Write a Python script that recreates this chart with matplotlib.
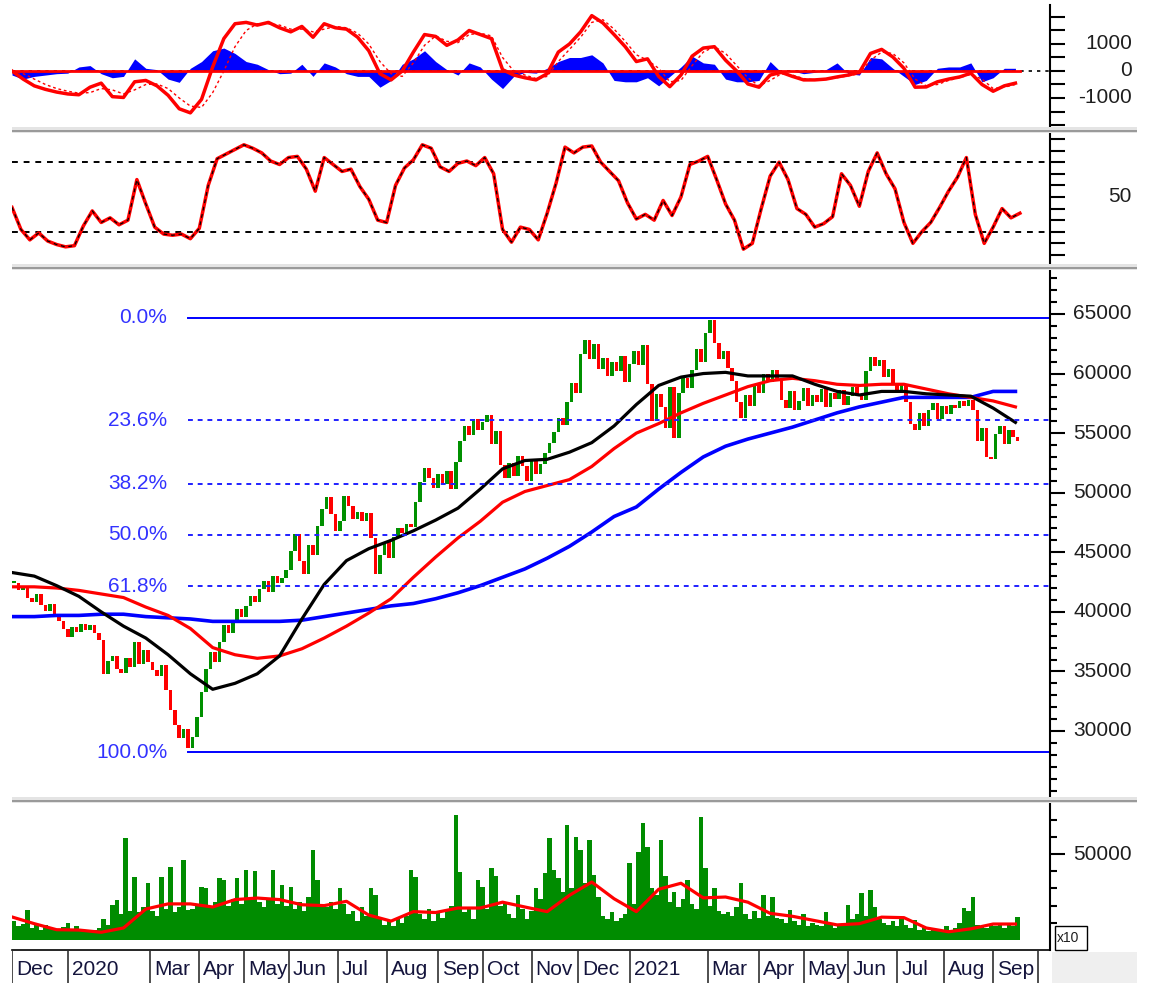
import numpy as np
import matplotlib.pyplot as plt
from matplotlib.patches import Rectangle

plt.rcParams['font.family'] = ['Liberation Sans', 'DejaVu Sans']

# ---- data ----
month_labels = ['Dec', '2020', 'Mar', 'Apr', 'May', 'Jun', 'Jul', 'Aug', 'Sep', 'Oct',
                'Nov', 'Dec', '2021', 'Mar', 'Apr', 'May', 'Jun', 'Jul', 'Aug', 'Sep']
month_days = [25, 37, 22, 20, 20, 22, 22, 23, 20, 22, 21, 23, 35, 23, 20, 20, 22, 21, 22, 20]

# closes, one candle per 2 sessions
closes = [42400, 41800, 42100, 41200, 40800, 41500, 40600, 40100, 40700, 39800,
          39200, 38600, 37900, 38700, 38300, 39000, 38500, 38900, 38200, 37600,
          34800, 35900, 36300, 35200, 34900, 36100, 35400, 37500, 35600, 36800,
          35800, 35100, 34600, 35500, 33400, 31800, 30500, 29400, 30200, 28600,
          29500, 31200, 33300, 35200, 36600, 35800, 37500, 38900, 38200, 39300,
          40200, 39600, 40500, 41300, 40800, 41900, 42600, 41700, 43000, 42400,
          42800, 43500, 45100, 46500, 44300, 43200, 45600, 44800, 47200, 48600,
          49600, 48200, 46800, 47600, 49700, 48900, 47800, 48400, 47600, 48300,
          46200, 43200, 44800, 45900, 44500, 46300, 47000, 46600, 47400, 47100,
          49200, 50900, 52100, 51200, 50400, 51600, 50700, 51800, 50300, 52600,
          54300, 55600, 54800, 56200, 55300, 55900, 56500, 54100, 55200, 52300,
          51200, 52500, 51400, 53100, 52200, 51000, 52800, 51600, 52400, 53300,
          54200, 55100, 56300, 55700, 57600, 59200, 58400, 61600, 62800, 61200,
          62500, 60400, 61300, 59800, 61000, 60200, 61500, 59300, 60800, 61900,
          60700, 62400, 59100, 56000, 58300, 57200, 55400, 58900, 54600, 58400,
          59600, 58800, 60300, 62100, 61000, 63400, 64500, 62600, 61200, 61900,
          60500, 59400, 57600, 56300, 58200, 57300, 59100, 58400, 60000, 59300,
          60300, 59500, 57800, 57100, 58500, 56900, 57700, 58800, 57300, 58200,
          57600, 58700, 57200, 58400, 57900, 58600, 57400, 58100, 58900, 58300,
          57800, 60200, 61400, 60600, 61100, 59700, 60400, 59200, 58600, 59100,
          57600, 55800, 55300, 56700, 55600, 56900, 57500, 56200, 57300, 56600,
          57400, 57100, 57700, 57300, 57800, 56900, 54300, 55400, 53000, 52800,
          54900, 55600, 54100, 55300, 54700, 54300]

volumes = [11000, 8000, 9500, 17400, 7000, 8500, 6000, 9000, 7500, 6500,
           5000, 7500, 10000, 5500, 8000, 6500, 4500, 5000, 6000, 7000,
           12000, 9000, 20300, 23300, 15000, 59300, 17000, 36600, 16000, 19000,
           33000, 17000, 14000, 36600, 18000, 42400, 16000, 19000, 46500, 17500,
           18000, 21000, 31000, 30000, 19000, 22000, 36000, 35000, 20000, 24000,
           36000, 21000, 40700, 23000, 40000, 22000, 19000, 24000, 40700, 21000,
           32000, 20000, 31000, 18000, 22000, 17000, 25000, 52300, 35000, 21000,
           19000, 22000, 18000, 30000, 21000, 15000, 17000, 11000, 19000, 14000,
           30000, 26000, 12000, 9000, 11000, 8000, 13000, 10000, 14000, 40700,
           36600, 15000, 12000, 18000, 11000, 16000, 13000, 17000, 20000, 72700,
           39500, 16000, 19000, 12000, 35000, 31000, 18000, 41900, 37000, 20000,
           22000, 15000, 13000, 26000, 18000, 12000, 17000, 30000, 24000, 39000,
           59300, 40700, 36000, 28000, 66900, 30000, 60000, 52300, 33000, 58100,
           38000, 25000, 14000, 12000, 16000, 11000, 13000, 15000, 44800, 21000,
           51200, 68000, 54100, 30000, 26000, 58100, 37000, 22000, 28000, 19000,
           24000, 35000, 21000, 18000, 71500, 42000, 20000, 30000, 17000, 15000,
           16000, 14000, 19000, 33100, 15000, 12000, 17000, 13000, 26200, 14000,
           25000, 13000, 12000, 10000, 17400, 11000, 9000, 15000, 8000, 10000,
           9000, 8000, 16300, 10000, 7000, 9000, 8000, 20300, 12000, 15000,
           27300, 14000, 29100, 19000, 12000, 10000, 9000, 11000, 8000, 12000,
           9000, 7000, 11600, 6000, 8000, 5000, 7000, 6000, 5000, 8000,
           6000, 7000, 10000, 18600, 17000, 25000, 9000, 8000, 7000, 9000,
           8000, 10000, 7000, 9000, 8000, 13400]

# moving averages, one point per 10 sessions
ma_black = [43300, 43000, 42200, 41300, 40000, 38800, 37800, 36400, 34800, 33500,
            34000, 34800, 36300, 39400, 42300, 44300, 45300, 46000, 46800, 47700,
            48700, 50300, 52000, 52700, 52800, 53400, 54200, 55600, 57400, 59000,
            59700, 60000, 60100, 59800, 59800, 59800, 59100, 58500, 58200, 58500,
            58500, 58300, 58200, 58100, 57100, 55900]
ma_red = [42100, 42100, 42000, 41800, 41500, 41200, 40400, 39700, 38600, 37000,
          36400, 36100, 36300, 36900, 37800, 38800, 39900, 41100, 42900, 44600,
          46200, 47600, 49200, 50100, 50600, 51100, 52200, 53700, 55000, 55800,
          56700, 57500, 58200, 58900, 59400, 59600, 59400, 59100, 59000, 59100,
          59100, 58700, 58300, 58000, 57700, 57200]
ma_blue = [39600, 39600, 39700, 39700, 39800, 39800, 39600, 39500, 39400, 39200,
           39200, 39200, 39200, 39300, 39600, 39900, 40200, 40500, 40700, 41100,
           41600, 42200, 42900, 43600, 44500, 45500, 46700, 48000, 48800, 50300,
           51700, 53000, 53900, 54500, 55000, 55500, 56100, 56700, 57200, 57600,
           58000, 58000, 58000, 58000, 58500, 58500]
vol_ma = [13400, 9500, 6000, 5800, 4500, 7000, 18000, 21000, 21000, 19200,
          23500, 24400, 23500, 20500, 20000, 22500, 14500, 11000, 16500, 16000,
          18600, 18600, 22000, 19200, 16500, 26000, 33700, 24000, 16500, 29500,
          33000, 24500, 25000, 22000, 15500, 13800, 11300, 8800, 9500, 13300,
          13000, 7000, 4800, 6500, 9300, 9300]

# MACD, one point per 5 sessions
macd = [0, -300, -550, -680, -780, -850, -880, -600, -450, -950,
        -980, -400, -350, -550, -900, -1400, -1550, -1050, 150, 1200,
        1750, 1800, 1700, 1800, 1600, 1450, 1650, 1250, 1750, 1600,
        1550, 1250, 750, -100, -330, 0, 700, 1350, 1280, 950,
        1150, 1500, 1350, 1200, 50, -150, -250, -330, -100, 700,
        1000, 1450, 2050, 1780, 1350, 900, 350, 450, -200, -580,
        -150, 550, 850, 900, 400, 0, -480, -600, -150, -50,
        -200, -330, -330, -300, -220, -150, -50, 650, 800, 520,
        100, -600, -590, -400, -300, -220, -80, -500, -750, -550, -450]
signal = [0, -100, -300, -500, -650, -750, -820, -800, -650, -700,
          -850, -700, -500, -480, -650, -1000, -1300, -1350, -800, 0,
          900, 1500, 1750, 1750, 1700, 1550, 1550, 1450, 1550, 1650,
          1600, 1400, 1000, 350, -100, -200, 300, 950, 1300, 1100,
          1050, 1350, 1400, 1300, 500, 0, -150, -280, -200, 350,
          800, 1250, 1800, 1900, 1550, 1100, 600, 400, 100, -400,
          -350, 200, 700, 900, 650, 200, -250, -550, -350, -100,
          -150, -280, -330, -310, -250, -180, -100, 400, 700, 650,
          300, -300, -550, -500, -350, -250, -120, -300, -650, -600, -500]
hist = [-150, -300, -200, -150, -100, -80, 150, 200, -100, -250,
        -200, 450, 100, 50, -300, -420, 100, 350, 750, 850,
        650, 350, 250, 50, -100, -80, 250, -200, 300, 150,
        -100, -200, -200, -600, -350, 250, 450, 750, 350, 50,
        -150, 300, 150, -300, -650, -200, -50, -80, 100, 350,
        500, 500, 600, 300, -350, -400, -400, -250, -550, -200,
        150, 550, 300, 250, -300, -400, -400, -350, 350, -50,
        0, -100, -50, 50, 300, -100, -150, 500, 450, 100,
        -200, -500, -350, 100, 150, 150, 300, -400, -250, 100, 100]

# stochastic, one point per 4 sessions
stoch = [41, 22, 13, 19, 12, 9, 7, 8, 25, 38,
         28, 32, 26, 30, 65, 44, 24, 18, 17, 18,
         14, 23, 60, 83, 87, 91, 95, 92, 88, 81,
         78, 84, 85, 74, 55, 84, 78, 72, 74, 59,
         48, 30, 28, 60, 75, 82, 95, 92, 76, 72,
         79, 81, 77, 84, 70, 22, 11, 24, 22, 13,
         36, 62, 93, 88, 93, 94, 80, 72, 64, 45,
         31, 35, 30, 47, 34, 50, 78, 81, 85, 65,
         44, 30, 5, 10, 40, 68, 80, 65, 40, 35,
         24, 27, 33, 70, 60, 42, 72, 88, 70, 57,
         28, 10, 20, 28, 41, 55, 67, 84, 35, 10,
         24, 40, 32, 36]

fib_high = 64700
fib_low = 28200
fib_pct = [0.0, 23.6, 38.2, 50.0, 61.8, 100.0]

# ---- layout ----
W, H = 1151, 983
XMAX = 465.5
fig = plt.figure(figsize=(W / 100, H / 100), dpi=100)


def box(x0, y0, x1, y1):
    return [x0 / W, 1 - y1 / H, (x1 - x0) / W, (y1 - y0) / H]


ax1 = fig.add_axes(box(12, 5, 1050, 128))
ax2 = fig.add_axes(box(12, 134, 1050, 264))
ax3 = fig.add_axes(box(12, 270, 1050, 797))
ax4 = fig.add_axes(box(12, 803, 1050, 950))
axm = fig.add_axes(box(12, 951, 1050, 983))

LBL_X = (1132 - 12) / (1050 - 12)
TXT = '#1e1e1e'


def style(ax, ylim, ticks, long_ticks, labels):
    ax.set_xlim(0, XMAX)
    ax.set_ylim(*ylim)
    for s in ['left', 'top', 'bottom']:
        ax.spines[s].set_visible(False)
    ax.spines['right'].set_linewidth(1.5)
    ax.set_xticks([])
    ax.yaxis.tick_right()
    ax.set_yticks([t for t in ticks if t not in long_ticks], minor=True)
    ax.set_yticks(long_ticks)
    ax.set_yticklabels([])
    ax.tick_params(axis='y', which='major', length=11, width=1.5, direction='out')
    ax.tick_params(axis='y', which='minor', length=5, width=1.5, direction='out')
    tr = ax.get_yaxis_transform()
    for v, s in labels:
        ax.text(LBL_X, v, s, transform=tr, ha='right', va='center',
                fontsize=15, color=TXT, clip_on=False)


# ---- MACD panel ----
xm = np.arange(len(macd)) * 5
ax1.axhline(0, color='black', lw=1.2, ls=(0, (2, 3)))
ax1.fill_between(xm, hist, 0, color='#0000ff', lw=0)
ax1.plot([0, 2 * len(closes)], [0, 0], color='#ff0000', lw=2)
ax1.plot(xm, signal, color='#ff0000', lw=1, ls=(0, (2, 2)))
ax1.plot(xm, macd, color='#ff0000', lw=2.5)
t1 = list(range(-2000, 2001, 500))
style(ax1, (-2111, 2444), t1, t1, [(1000, '1000'), (0, '0'), (-1000, '-1000')])

# ---- stochastic panel ----
xs = np.arange(len(stoch)) * 4
for lv in (80, 20):
    ax2.axhline(lv, color='black', lw=1.4, ls=(0, (3, 3)))
ax2.plot(xs, stoch, color='#ff0000', lw=2.5)
ax2.plot(xs, stoch, color='black', lw=0.9, ls=(0, (3, 3)))
t2 = list(range(0, 101, 10))
style(ax2, (-7.8, 104.3), t2, t2, [(50, '50')])

# ---- price panel ----
closes_a = np.array(closes, dtype=float)
opens_a = np.r_[closes_a[0], closes_a[:-1]]
xc = np.arange(len(closes)) * 2 + 1
body_lo = np.minimum(opens_a, closes_a)
body_h = np.maximum(np.abs(closes_a - opens_a), 150)
ccol = np.where(closes_a >= opens_a, '#009000', '#ff0000')
ax3.bar(xc, body_h, bottom=body_lo, width=1.6, color=ccol, lw=0)

xa = np.arange(len(ma_black)) * 10
ax3.plot(xa, ma_blue, color='#0000ff', lw=2.6)
ax3.plot(xa, ma_red, color='#ff0000', lw=2.3)
ax3.plot(xa, ma_black, color='black', lw=2.3)

fib_start = xc[int(np.argmin(closes_a))]
for p in fib_pct:
    lvl = fib_high - p / 100 * (fib_high - fib_low)
    solid = p in (0.0, 100.0)
    ax3.plot([fib_start, XMAX], [lvl, lvl], color='#0000ff' if solid else '#2020ff',
             lw=1.4, ls='-' if solid else (0, (2.5, 2.5)))
    ax3.annotate('%.1f%%' % p, (fib_start, lvl), xytext=(-15, 0),
                 textcoords='offset points', ha='right', va='center',
                 fontsize=15, color='#3232ff')

t3 = list(range(25000, 68001, 1000))
style(ax3, (24460, 68690), t3, list(range(30000, 65001, 5000)),
      [(v, str(v)) for v in range(30000, 65001, 5000)])

# ---- volume panel ----
ax4.bar(xc, volumes, width=2.0, color='#008c00', lw=0)
ax4.plot(xa, vol_ma, color='#ff0000', lw=2.3)
t4 = list(range(10000, 70001, 10000))
style(ax4, (-5800, 79650), t4, [50000], [(50000, '50000')])
ax4.spines['bottom'].set_visible(True)
ax4.spines['bottom'].set_linewidth(1.2)

# ---- month row ----
axm.set_xlim(0, XMAX)
axm.set_ylim(0, 1)
axm.axis('off')
bounds = np.concatenate([[0], np.cumsum(month_days)])
axm.vlines(bounds, 0, 1, color='#303030', lw=1.2)
for b, lab in zip(bounds[:-1], month_labels):
    axm.text(b + 1.8, 0.42, lab, ha='left', va='center', fontsize=15, color='#14143c')

# ---- separators and boxes ----
for y0 in (127, 264, 797):
    fig.patches.append(Rectangle((12 / W, 1 - (y0 + 6) / H), 1125 / W, 6 / H,
                                 transform=fig.transFigure, color='#e4e4e4', lw=0))
    fig.patches.append(Rectangle((12 / W, 1 - (y0 + 5) / H), 1125 / W, 2.5 / H,
                                 transform=fig.transFigure, color='#9a9a9a', lw=0))
fig.patches.append(Rectangle((1052 / W, 1 - 983 / H), 85 / W, 31 / H,
                             transform=fig.transFigure, color='#efefef', lw=0))
fig.patches.append(Rectangle((1055 / W, 1 - 950 / H), 32 / W, 24 / H,
                             transform=fig.transFigure, facecolor='white',
                             edgecolor='black', lw=1))
fig.text(1057 / W, 1 - 938 / H, 'x10', fontsize=10, va='center', ha='left', color=TXT)

fig.savefig('out.png', dpi=100)
